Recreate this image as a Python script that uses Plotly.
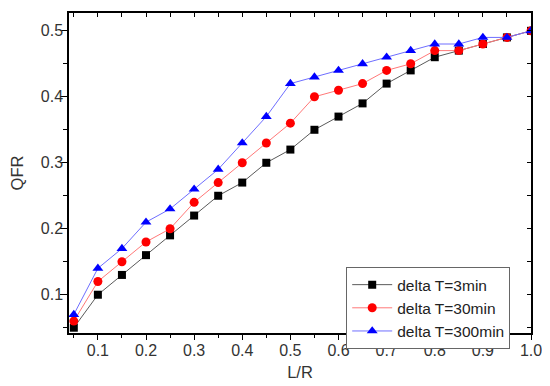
import plotly.graph_objects as go

lr = [0.05, 0.10, 0.15, 0.20, 0.25, 0.30, 0.35, 0.40, 0.45, 0.50,
      0.55, 0.60, 0.65, 0.70, 0.75, 0.80, 0.85, 0.90, 0.95, 1.00]
qfr_3min = [0.05, 0.10, 0.13, 0.16, 0.19, 0.22, 0.25, 0.27, 0.30, 0.32,
            0.35, 0.37, 0.39, 0.42, 0.44, 0.46, 0.47, 0.48, 0.49, 0.50]
qfr_30min = [0.06, 0.12, 0.15, 0.18, 0.20, 0.24, 0.27, 0.30, 0.33, 0.36,
             0.40, 0.41, 0.42, 0.44, 0.45, 0.47, 0.47, 0.48, 0.49, 0.50]
qfr_300min = [0.07, 0.14, 0.17, 0.21, 0.23, 0.26, 0.29, 0.33, 0.37, 0.42,
              0.43, 0.44, 0.45, 0.46, 0.47, 0.48, 0.48, 0.49, 0.49, 0.50]
names = ["delta T=3min", "delta T=30min", "delta T=300min"]
x_ticks = [0.1, 0.2, 0.3, 0.4, 0.5, 0.6, 0.7, 0.8, 0.9, 1.0]
y_ticks = [0.1, 0.2, 0.3, 0.4, 0.5]

fig = go.Figure()
styles = [
    (qfr_3min, "square", 8, "black", "rgb(90,90,90)"),
    (qfr_30min, "circle", 9, "rgb(255,0,0)", "rgb(255,120,120)"),
    (qfr_300min, "triangle-up", 9.5, "rgb(0,0,255)", "rgb(110,110,255)"),
]
for (vals, sym, sz, mc, lc), nm in zip(styles, names):
    fig.add_trace(go.Scatter(
        x=lr, y=vals, name=nm, mode="lines+markers",
        line=dict(color=lc, width=1),
        marker=dict(symbol=sym, size=sz, color=mc, line=dict(width=0)),
    ))

FAM = "Liberation Sans, Arial"
font_tick = dict(family=FAM, size=16, color="#333")
xr = [0.04, 1.0]
yr = [0.042, 0.527]
# page body has an 8px default margin, so the figure is 8px smaller
fig.update_layout(
    width=542, height=378,
    margin=dict(l=56, r=19, t=5, b=53),
    plot_bgcolor="white", paper_bgcolor="white",
    showlegend=True,
    legend=dict(
        x=0.6, y=0.206, xanchor="left", yanchor="top",
        bordercolor="#666", borderwidth=1, bgcolor="white",
        font=dict(family=FAM, size=15.5, color="#222"),
        itemwidth=40, tracegroupgap=0,
    ),
    xaxis=dict(
        range=xr, tickvals=x_ticks, ticktext=[f"{v:.1f}" for v in x_ticks],
        ticks="outside", ticklen=5, tickwidth=1.2, tickcolor="black",
        minor=dict(tickvals=[0.05 + 0.1 * i for i in range(10)], ticks="outside",
                   ticklen=3, tickcolor="black", tickwidth=1.2),
        showline=True, linecolor="black", linewidth=1.5, showgrid=False, zeroline=False,
        tickfont=font_tick, ticklabelstandoff=-3,
        title=dict(text="L/R", font=dict(family=FAM, size=16.5, color="#333"), standoff=8),
    ),
    yaxis=dict(
        range=yr, tickvals=y_ticks, ticktext=[f"{v:.1f}" for v in y_ticks],
        ticks="outside", ticklen=7, tickwidth=1.2, tickcolor="black",
        minor=dict(tickvals=[0.05 + 0.1 * i for i in range(5)], ticks="outside",
                   ticklen=4, tickcolor="black", tickwidth=1.2),
        showline=True, linecolor="black", linewidth=1.5, showgrid=False, zeroline=False,
        tickfont=font_tick, ticklabelstandoff=-6,
        title=dict(text="QFR", font=dict(family=FAM, size=16.5, color="#333"), standoff=16),
    ),
    xaxis2=dict(
        overlaying="x", side="top", range=xr, matches="x",
        tickvals=[0.05 * i for i in range(1, 21)], ticks="inside", ticklen=4,
        tickwidth=1.2, tickcolor="black", showticklabels=False,
        showline=True, linecolor="black", linewidth=1.5, showgrid=False, zeroline=False,
    ),
    yaxis2=dict(
        overlaying="y", side="right", range=yr, matches="y",
        tickvals=[0.05 * i for i in range(1, 11)], ticks="inside", ticklen=4,
        tickwidth=1.2, tickcolor="black", showticklabels=False,
        showline=True, linecolor="black", linewidth=1.5, showgrid=False, zeroline=False,
    ),
)
fig.add_trace(go.Scatter(x=[None], y=[None], xaxis="x2", yaxis="y2",
                         showlegend=False, hoverinfo="skip"))
fig.write_html("out.html")
